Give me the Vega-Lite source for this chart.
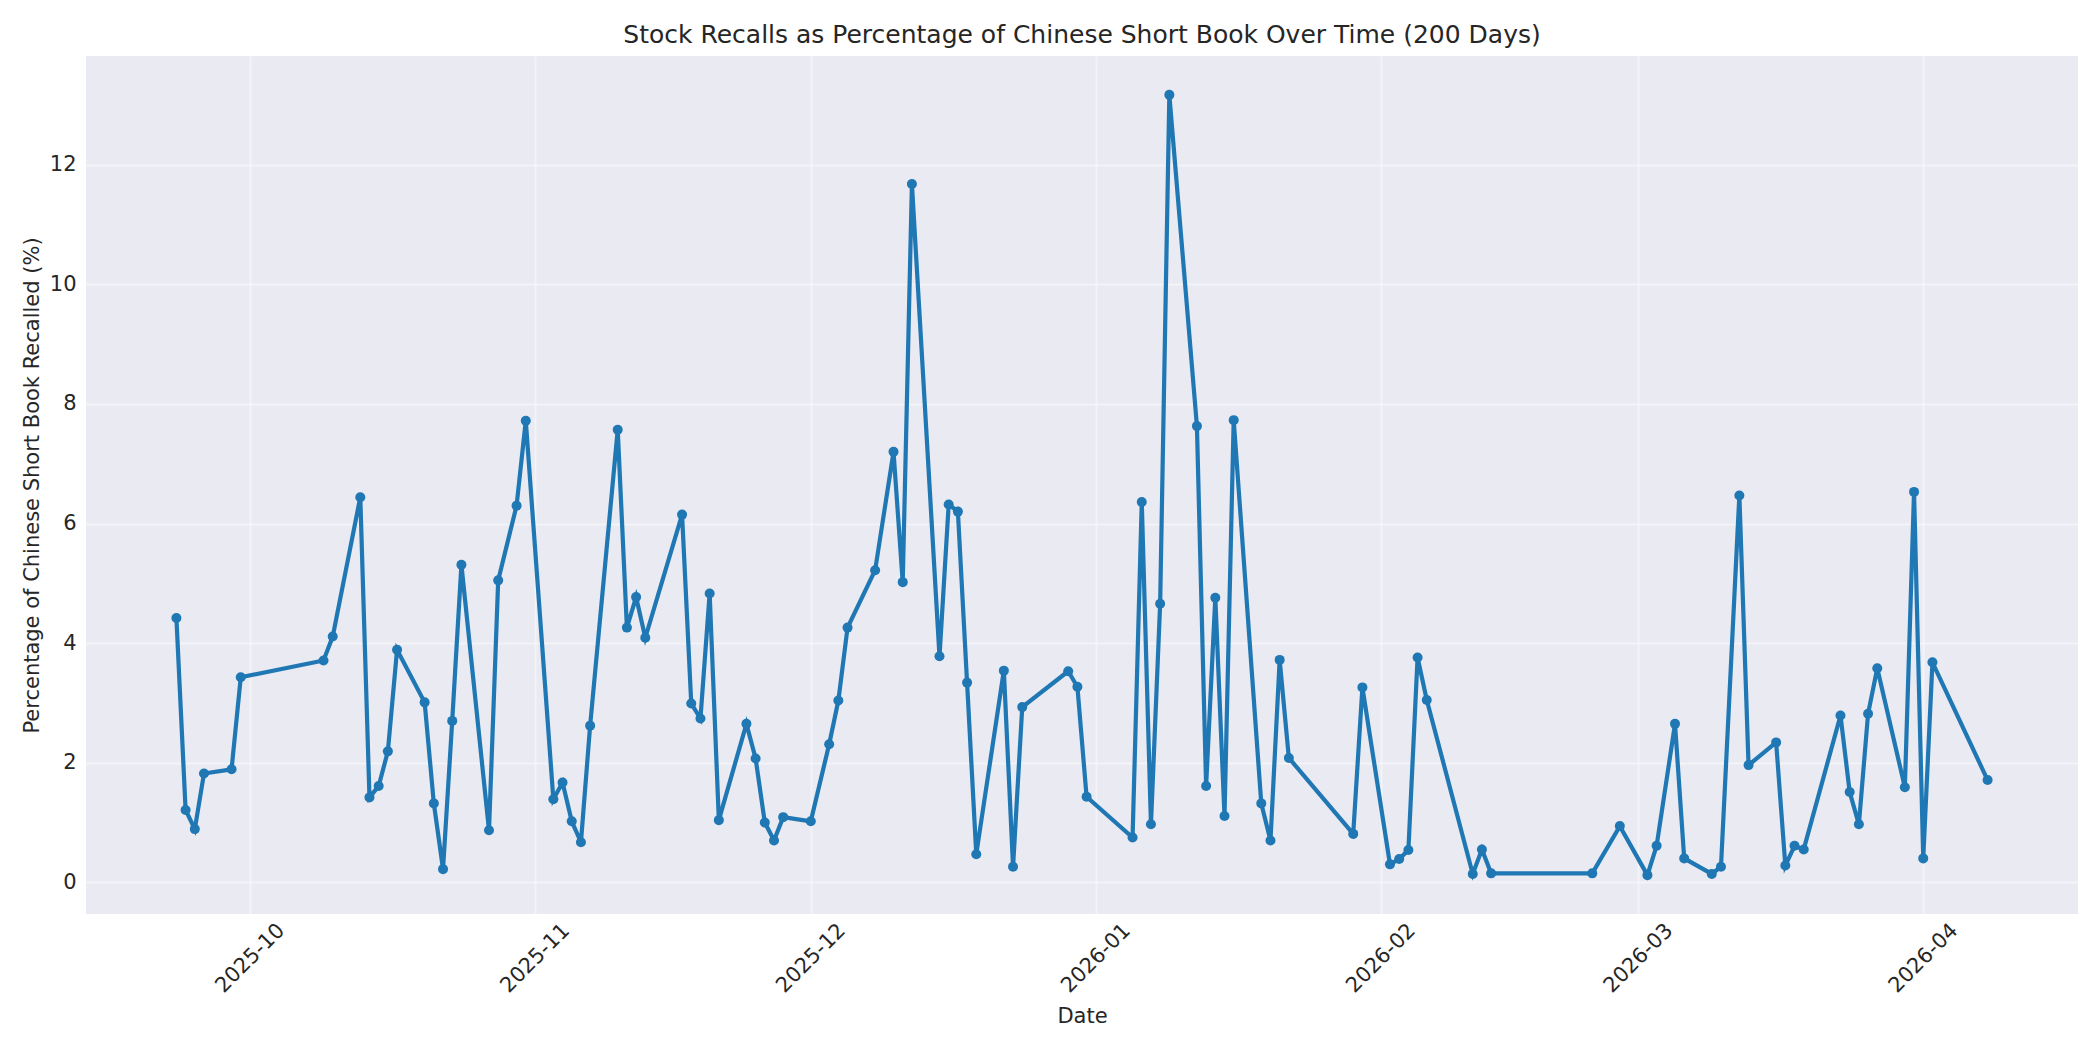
{
  "$schema": "https://vega.github.io/schema/vega-lite/v6.json",
  "autosize": "none",
  "width": 1992,
  "height": 858,
  "padding": {"left": 86, "top": 56, "right": 22, "bottom": 136},
  "background": "#ffffff",
  "config": {
    "font": "DejaVu Sans",
    "view": {"fill": "#EAEAF2", "stroke": null},
    "axis": {
      "domain": false,
      "ticks": false,
      "grid": true,
      "gridColor": "#ffffff",
      "gridOpacity": 0.45,
      "gridWidth": 2,
      "labelColor": "#262626",
      "titleColor": "#262626",
      "labelFont": "DejaVu Sans",
      "titleFont": "DejaVu Sans",
      "labelFontSize": 21,
      "titleFontSize": 21,
      "titleFontWeight": "normal"
    },
    "title": {"font": "DejaVu Sans", "fontSize": 25, "fontWeight": "normal", "color": "#262626"}
  },
  "title": {"text": "Stock Recalls as Percentage of Chinese Short Book Over Time (200 Days)", "anchor": "middle", "offset": 8},
  "data": {"values": [
    {"date": "2025-09-23", "pct": 4.42},
    {"date": "2025-09-24", "pct": 1.21},
    {"date": "2025-09-25", "pct": 0.89},
    {"date": "2025-09-26", "pct": 1.82},
    {"date": "2025-09-29", "pct": 1.89},
    {"date": "2025-09-30", "pct": 3.43},
    {"date": "2025-10-09", "pct": 3.71},
    {"date": "2025-10-10", "pct": 4.11},
    {"date": "2025-10-13", "pct": 6.44},
    {"date": "2025-10-14", "pct": 1.42},
    {"date": "2025-10-15", "pct": 1.61},
    {"date": "2025-10-16", "pct": 2.19},
    {"date": "2025-10-17", "pct": 3.89},
    {"date": "2025-10-20", "pct": 3.01},
    {"date": "2025-10-21", "pct": 1.32},
    {"date": "2025-10-22", "pct": 0.22},
    {"date": "2025-10-23", "pct": 2.70},
    {"date": "2025-10-24", "pct": 5.31},
    {"date": "2025-10-27", "pct": 0.87},
    {"date": "2025-10-28", "pct": 5.05},
    {"date": "2025-10-30", "pct": 6.30},
    {"date": "2025-10-31", "pct": 7.72},
    {"date": "2025-11-03", "pct": 1.39},
    {"date": "2025-11-04", "pct": 1.67},
    {"date": "2025-11-05", "pct": 1.02},
    {"date": "2025-11-06", "pct": 0.67},
    {"date": "2025-11-07", "pct": 2.62},
    {"date": "2025-11-10", "pct": 7.57},
    {"date": "2025-11-11", "pct": 4.26},
    {"date": "2025-11-12", "pct": 4.77},
    {"date": "2025-11-13", "pct": 4.09},
    {"date": "2025-11-17", "pct": 6.15},
    {"date": "2025-11-18", "pct": 2.99},
    {"date": "2025-11-19", "pct": 2.74},
    {"date": "2025-11-20", "pct": 4.83},
    {"date": "2025-11-21", "pct": 1.04},
    {"date": "2025-11-24", "pct": 2.65},
    {"date": "2025-11-25", "pct": 2.07},
    {"date": "2025-11-26", "pct": 1.00},
    {"date": "2025-11-27", "pct": 0.70},
    {"date": "2025-11-28", "pct": 1.09},
    {"date": "2025-12-01", "pct": 1.02},
    {"date": "2025-12-03", "pct": 2.31},
    {"date": "2025-12-04", "pct": 3.04},
    {"date": "2025-12-05", "pct": 4.26},
    {"date": "2025-12-08", "pct": 5.22},
    {"date": "2025-12-10", "pct": 7.20},
    {"date": "2025-12-11", "pct": 5.02},
    {"date": "2025-12-12", "pct": 11.68},
    {"date": "2025-12-15", "pct": 3.78},
    {"date": "2025-12-16", "pct": 6.32},
    {"date": "2025-12-17", "pct": 6.20},
    {"date": "2025-12-18", "pct": 3.34},
    {"date": "2025-12-19", "pct": 0.47},
    {"date": "2025-12-22", "pct": 3.54},
    {"date": "2025-12-23", "pct": 0.26},
    {"date": "2025-12-24", "pct": 2.93},
    {"date": "2025-12-29", "pct": 3.53},
    {"date": "2025-12-30", "pct": 3.27},
    {"date": "2025-12-31", "pct": 1.43},
    {"date": "2026-01-05", "pct": 0.75},
    {"date": "2026-01-06", "pct": 6.36},
    {"date": "2026-01-07", "pct": 0.97},
    {"date": "2026-01-08", "pct": 4.66},
    {"date": "2026-01-09", "pct": 13.17},
    {"date": "2026-01-12", "pct": 7.63},
    {"date": "2026-01-13", "pct": 1.61},
    {"date": "2026-01-14", "pct": 4.76},
    {"date": "2026-01-15", "pct": 1.11},
    {"date": "2026-01-16", "pct": 7.73},
    {"date": "2026-01-19", "pct": 1.32},
    {"date": "2026-01-20", "pct": 0.70},
    {"date": "2026-01-21", "pct": 3.72},
    {"date": "2026-01-22", "pct": 2.08},
    {"date": "2026-01-29", "pct": 0.81},
    {"date": "2026-01-30", "pct": 3.26},
    {"date": "2026-02-02", "pct": 0.30},
    {"date": "2026-02-03", "pct": 0.39},
    {"date": "2026-02-04", "pct": 0.54},
    {"date": "2026-02-05", "pct": 3.76},
    {"date": "2026-02-06", "pct": 3.05},
    {"date": "2026-02-11", "pct": 0.14},
    {"date": "2026-02-12", "pct": 0.55},
    {"date": "2026-02-13", "pct": 0.15},
    {"date": "2026-02-24", "pct": 0.15},
    {"date": "2026-02-27", "pct": 0.94},
    {"date": "2026-03-02", "pct": 0.12},
    {"date": "2026-03-03", "pct": 0.61},
    {"date": "2026-03-05", "pct": 2.65},
    {"date": "2026-03-06", "pct": 0.40},
    {"date": "2026-03-09", "pct": 0.14},
    {"date": "2026-03-10", "pct": 0.26},
    {"date": "2026-03-12", "pct": 6.47},
    {"date": "2026-03-13", "pct": 1.96},
    {"date": "2026-03-16", "pct": 2.34},
    {"date": "2026-03-17", "pct": 0.28},
    {"date": "2026-03-18", "pct": 0.61},
    {"date": "2026-03-19", "pct": 0.55},
    {"date": "2026-03-23", "pct": 2.79},
    {"date": "2026-03-24", "pct": 1.51},
    {"date": "2026-03-25", "pct": 0.97},
    {"date": "2026-03-26", "pct": 2.82},
    {"date": "2026-03-27", "pct": 3.58},
    {"date": "2026-03-30", "pct": 1.59},
    {"date": "2026-03-31", "pct": 6.53},
    {"date": "2026-04-01", "pct": 0.40},
    {"date": "2026-04-02", "pct": 3.68},
    {"date": "2026-04-08", "pct": 1.71}
  ]},
  "mark": {
    "type": "line",
    "color": "#1f77b4",
    "strokeWidth": 4.2,
    "point": {"filled": true, "size": 100, "color": "#1f77b4", "opacity": 1}
  },
  "encoding": {
    "x": {
      "field": "date",
      "type": "temporal",
      "title": "Date",
      "scale": {
        "type": "utc",
        "domain": [
          {"year": 2025, "month": 9, "date": 13, "hours": 4, "utc": true},
          {"year": 2026, "month": 4, "date": 17, "hours": 20, "utc": true}
        ],
        "nice": false
      },
      "axis": {
        "labelExpr": "utcFormat(datum.value, '%Y-%m')",
        "tickCount": {"interval": "month", "step": 1},
        "labelAngle": -45,
        "labelAlign": "center",
        "labelBaseline": "middle",
        "labelPadding": 44,
        "titlePadding": 9,
        "labelOverlap": false
      }
    },
    "y": {
      "field": "pct",
      "type": "quantitative",
      "title": "Percentage of Chinese Short Book Recalled (%)",
      "scale": {"domain": [-0.53, 13.82], "nice": false, "zero": false},
      "axis": {
        "values": [0, 2, 4, 6, 8, 10, 12],
        "labelPadding": 10,
        "titlePadding": 7
      }
    }
  }
}
